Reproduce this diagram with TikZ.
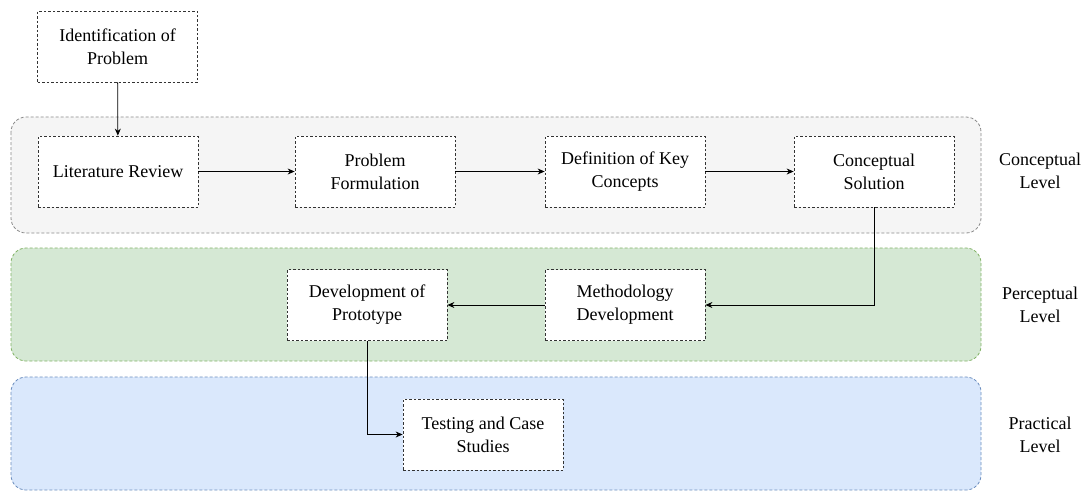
\documentclass[tikz,border=0pt]{standalone}
\usepackage{fontspec}
\setmainfont{Liberation Serif}
\usetikzlibrary{arrows.meta}
\definecolor{boxline}{HTML}{333333}
\definecolor{greyfill}{HTML}{F5F5F5}
\definecolor{greyline}{HTML}{8A8A8A}
\definecolor{greenfill}{HTML}{D5E8D4}
\definecolor{greenline}{HTML}{82B366}
\definecolor{bluefill}{HTML}{DAE8FC}
\definecolor{blueline}{HTML}{6C8EBF}
\begin{document}
\begin{tikzpicture}[x=1pt,y=-1pt,
  every node/.style={font=\fontsize{18}{23}\selectfont},
  stepbox/.style={draw=boxline, fill=white, line width=0.8pt, dash pattern=on 2.5pt off 2pt,
    minimum width=160pt, minimum height=71pt, align=center, inner sep=2pt},
  band/.style={line width=0.8pt, dash pattern=on 3pt off 2pt, rounded corners=15pt},
  levellabel/.style={align=center},
  flow/.style={draw=black, line width=0.8pt, -{Stealth[length=7pt,width=6pt]}}]
\useasboundingbox (0,0) rectangle (1091,491);
\fill[white] (0,0) rectangle (1091,491);

% layer bands
\draw[band, draw=greyline, fill=greyfill] (11,117) rectangle (981,233);
\draw[band, draw=greenline, fill=greenfill] (11,248) rectangle (981,361);
\draw[band, draw=blueline, fill=bluefill] (11,377) rectangle (981,490);

% level labels
\node[levellabel] (lconc) at (1040,171) {Conceptual\\Level};
\node[levellabel] (lperc) at (1040,305) {Perceptual\\Level};
\node[levellabel] (lprac) at (1040,435) {Practical\\Level};

% process steps
\node[stepbox] (ident) at (117.5,46.5) {Identification of\\Problem};
\node[stepbox] (lit) at (118,171.5) {Literature Review};
\node[stepbox] (form) at (375,171.5) {Problem\\Formulation};
\node[stepbox] (defs) at (625,171.5) {Definition of Key\\Concepts};
\node[stepbox] (csol) at (874,171.5) {Conceptual\\Solution};
\node[stepbox] (meth) at (625,305) {Methodology\\Development};
\node[stepbox] (proto) at (367,305) {Development of\\Prototype};
\node[stepbox] (test) at (483,434.5) {Testing and Case\\Studies};

% connectors
\draw[flow] (ident) -- (lit);
\draw[flow] (lit) -- (form);
\draw[flow] (form) -- (defs);
\draw[flow] (defs) -- (csol);
\draw[flow] (csol.south) |- (meth.east);
\draw[flow] (meth) -- (proto);
\draw[flow] (proto.south) |- (test.west);
\end{tikzpicture}
\end{document}
